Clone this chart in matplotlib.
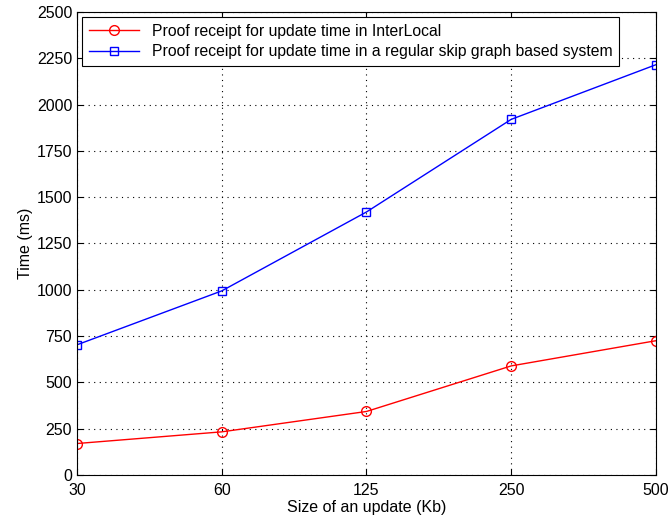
import matplotlib
matplotlib.use("Agg")
import matplotlib.pyplot as plt

plt.rcParams['font.family'] = ['Liberation Sans', 'DejaVu Sans']

categories = ['30', '60', '125', '250', '500']
interlocal = [170, 233, 343, 589, 725]
skipgraph = [703, 994, 1420, 1920, 2215]
yticks = [0, 250, 500, 750, 1000, 1250, 1500, 1750, 2000, 2250, 2500]

fig = plt.figure(figsize=(6.7, 5.18), dpi=100)
ax = fig.add_axes([0.115, 0.083, 0.864, 0.894])
x = list(range(len(categories)))
ax.plot(x, interlocal, color='red', marker='o', markersize=7, markerfacecolor='none',
        linewidth=1, label='Proof receipt for update time in InterLocal')
ax.plot(x, skipgraph, color='blue', marker='s', markersize=6, markerfacecolor='none',
        linewidth=1, label='Proof receipt for update time in a regular skip graph based system')
ax.set_xlim(0, 4)
ax.set_ylim(0, 2500)
ax.set_xticks(x)
ax.set_xticklabels(categories)
ax.set_yticks(yticks)
ax.tick_params(direction='in', length=4, labelsize=11.5, top=True, right=True)
ax.tick_params(axis='x', pad=6)
ax.grid(True, color='black', linestyle=(0, (1, 4)), linewidth=0.8)
ax.set_xlabel('Size of an update (Kb)', fontsize=11.5, labelpad=1)
ax.set_ylabel('Time (ms)', fontsize=11.5, labelpad=3)
leg = ax.legend(loc='upper left', fontsize=11.3, fancybox=False, edgecolor='black',
                framealpha=1, borderaxespad=0.3, handlelength=3.2, borderpad=0.45,
                labelspacing=0.35)
leg.get_frame().set_linewidth(0.8)
fig.savefig('out.png', dpi=100)
